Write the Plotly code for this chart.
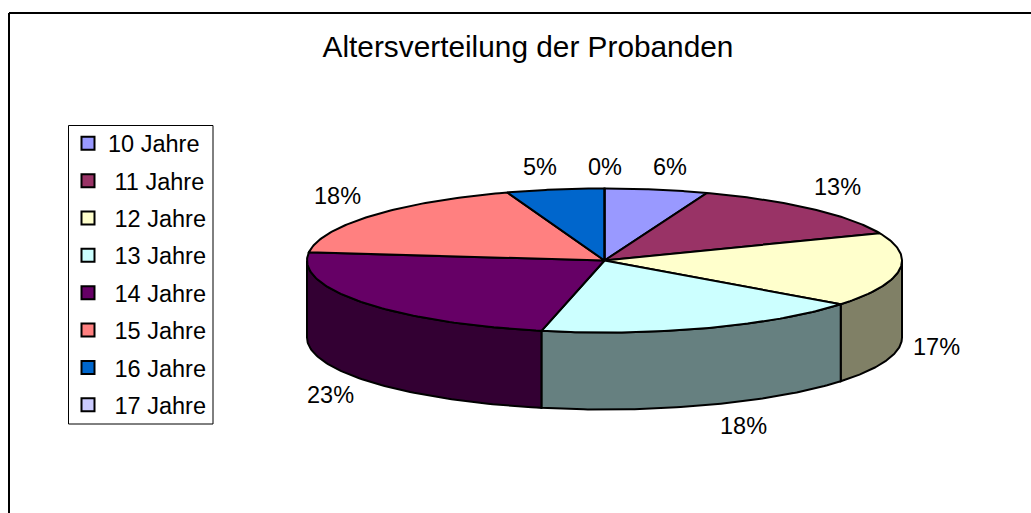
import numpy as np
import plotly.graph_objects as go

CATEGORIES = ["10 Jahre", "11 Jahre", "12 Jahre", "13 Jahre", "14 Jahre", "15 Jahre", "16 Jahre", "17 Jahre"]
SHARES = [5.6, 13.2, 16.6, 18.0, 23.4, 17.9, 5.3, 0.0]
LABELS = ["6%", "13%", "17%", "18%", "23%", "18%", "5%", "0%"]
TOP_COLORS = ["#9999FF", "#993366", "#FFFFCC", "#CCFFFF", "#660066", "#FF8080", "#0066CC", "#CCCCFF"]
SIDE_COLORS = ["#4D4D80", "#4D1A33", "#808066", "#668080", "#330033", "#804040", "#003366", "#666680"]

CX, CY, RX, RY, DEPTH = 604.5, 260.5, 297.5, 72.0, 77.0
LAB_RX, LAB_RY = 338.0, 96.0
LABEL_SHIFT = [(6, -1), (-1, 4), (-3, 3), (23, 2), (1, -2), (-3, 4), (-8, -1), (0, -2.5)]
FONT = "Liberation Sans, Arial, sans-serif"
LINE = dict(color="#000000", width=2)


def ex(t):
    return CX + RX * np.sin(np.radians(t))


def ey(t):
    return CY - RY * np.cos(np.radians(t))


edges = np.concatenate([[0.0], np.cumsum(SHARES)]) / sum(SHARES) * 360.0
fig = go.Figure()

# Front walls of the cylinder
for i in range(len(SHARES)):
    a, b = max(edges[i], 90.0), min(edges[i + 1], 270.0)
    if b <= a:
        continue
    ts = np.linspace(a, b, 80)
    xs = np.concatenate([ex(ts), ex(ts[::-1]), [ex(ts[0])]])
    ys = np.concatenate([ey(ts), ey(ts[::-1]) + DEPTH, [ey(ts[0])]])
    fig.add_trace(go.Scatter(x=xs, y=ys, mode="lines", fill="toself", fillcolor=SIDE_COLORS[i],
                             line=LINE, showlegend=False, hoverinfo="skip"))

# Top face wedges
for i in range(len(SHARES)):
    ts = np.linspace(edges[i], edges[i + 1], 80)
    xs = np.concatenate([[CX], ex(ts), [CX]])
    ys = np.concatenate([[CY], ey(ts), [CY]])
    fig.add_trace(go.Scatter(x=xs, y=ys, mode="lines", fill="toself", fillcolor=TOP_COLORS[i],
                             line=LINE, showlegend=False, name=CATEGORIES[i], hoverinfo="skip"))

# Legend entries (the reference indents every row but the first)
for i, c in enumerate(CATEGORIES):
    fig.add_trace(go.Scatter(x=[None], y=[None], mode="markers", name=c if i == 0 else "\u00a0" + c, legendgroup=c,
                             marker=dict(symbol="square", size=13, color=TOP_COLORS[i],
                                         line=dict(color="#000000", width=2))))

# Percent labels
for i, lab in enumerate(LABELS):
    t = np.radians((edges[i] + edges[i + 1]) / 2)
    if SHARES[i] == 0:
        t = 0.0
    x = CX + LAB_RX * np.sin(t)
    y = CY - LAB_RY * np.cos(t) + (DEPTH if np.cos(t) < 0 else 0)
    fig.add_annotation(x=x, y=y, xref="x", yref="y", text=lab, showarrow=False,
                       xshift=LABEL_SHIFT[i][0], yshift=LABEL_SHIFT[i][1],
                       font=dict(family=FONT, size=23.5, color="#000000"))

fig.update_layout(
    width=1031, height=513, autosize=False,
    margin=dict(l=0, r=0, t=0, b=0),
    paper_bgcolor="#FFFFFF", plot_bgcolor="#FFFFFF",
    font=dict(family=FONT, color="#000000"),
    title=dict(text="Altersverteilung der Probanden", font=dict(family=FONT, size=29.8, color="#000000"),
               x=528 / 1031, xref="container", xanchor="center",
               y=1 - 47 / 513, yref="container", yanchor="middle"),
    xaxis=dict(range=[0, 1031], visible=False, fixedrange=True),
    yaxis=dict(range=[513, 0], visible=False, fixedrange=True),
    legend=dict(x=68 / 1031, y=1 - 121.5 / 513, xref="paper", yref="paper", xanchor="left", yanchor="top",
                borderwidth=0, bgcolor="rgba(0,0,0,0)",
                font=dict(family=FONT, size=23.5, color="#000000"),
                traceorder="grouped", tracegroupgap=3.8, itemsizing="trace", itemwidth=30,
                entrywidth=108, entrywidthmode="pixels"),
    shapes=[
        dict(type="line", xref="x", yref="y", x0=9, x1=9, y0=13, y1=513, line=dict(color="#000000", width=2)),
        dict(type="line", xref="x", yref="y", x0=9, x1=1031, y0=13, y1=13, line=dict(color="#000000", width=2)),
        dict(type="rect", xref="x", yref="y", x0=68.5, x1=213, y0=125.5, y1=424, line=dict(color="#000000", width=1)),
    ],
)

fig.write_html("out.html", post_script="document.body.style.margin='0';", config={"displayModeBar": False})
